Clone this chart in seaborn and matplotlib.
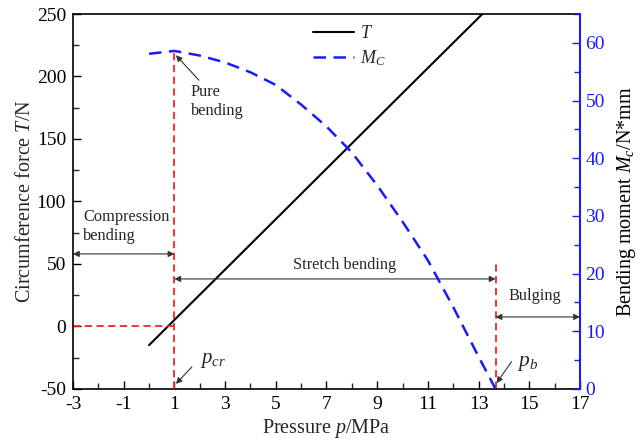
import numpy as np
import pandas as pd
import matplotlib
matplotlib.use("Agg")
import matplotlib.pyplot as plt
import seaborn as sns
from matplotlib.ticker import MultipleLocator, FixedLocator
from matplotlib.lines import Line2D

# ---- data ----
p_T = [0, 1, 3, 5, 7, 9, 11, 13.15]
T_vals = [-15, 5.2, 45.5, 85.8, 126.2, 166.5, 206.8, 250]

p_M = [0, 1, 2, 3, 4, 5, 6, 7, 8, 9, 10, 11, 12, 13, 13.67]
M_vals = [58.1, 58.6, 57.8, 56.6, 54.9, 52.7, 49.3, 45.5, 41.0, 35.3, 29.0, 22.3, 14.2, 5.6, 0.0]

p_cr = 1.0
p_b = 13.67
x_ticks = [-3, -1, 1, 3, 5, 7, 9, 11, 13, 15, 17]

dfT = pd.DataFrame({"p": p_T, "T": T_vals})
dfM = pd.DataFrame({"p": p_M, "M": M_vals})

sns.set_theme(style="ticks")
plt.rcParams['font.family'] = ['Liberation Serif', 'DejaVu Serif']
plt.rcParams['mathtext.fontset'] = 'custom'
plt.rcParams['mathtext.rm'] = 'Liberation Serif'
plt.rcParams['mathtext.it'] = 'Liberation Serif:italic'
plt.rcParams['mathtext.bf'] = 'Liberation Serif:bold'
plt.rcParams['axes.unicode_minus'] = False

fig = plt.figure(figsize=(6.38, 4.46), dpi=100)
ax = fig.add_axes([0.1144, 0.128, 0.7946, 0.8406])
ax2 = ax.twinx()

blue = "#1a1aff"
red = "#ff2020"

sns.lineplot(data=dfT, x="p", y="T", ax=ax, color="black", lw=1.5, legend=False)
sns.lineplot(data=dfM, x="p", y="M", ax=ax2, color=blue, lw=1.8, legend=False)
ax2.lines[0].set_dashes((5, 3))

ax.set_xlim(-3, 17)
ax.set_ylim(-50, 250)
ax2.set_ylim(0, 65)

# red guide lines
peak_M = max(M_vals)
ax2.plot([p_cr, p_cr], [0, peak_M], color=red, lw=1.3, dashes=(4, 2.5))
ax.plot([-3, p_cr], [0, 0], color=red, lw=1.3, dashes=(4, 2.5))
ax.plot([p_b, p_b], [-50, 52], color=red, lw=1.3, dashes=(4, 2.5))

# ticks
ax.xaxis.set_major_locator(FixedLocator(x_ticks))
ax.xaxis.set_minor_locator(MultipleLocator(1))
ax.yaxis.set_major_locator(MultipleLocator(50))
ax.yaxis.set_minor_locator(MultipleLocator(25))
ax2.yaxis.set_major_locator(MultipleLocator(10))
ax2.yaxis.set_minor_locator(MultipleLocator(5))

for a in (ax, ax2):
    a.tick_params(which='major', direction='in', length=6, width=1, labelsize=14)
    a.tick_params(which='minor', direction='in', length=4, width=1)
ax.tick_params(axis='both', colors='black', pad=5)
ax2.tick_params(axis='y', which='both', colors=blue, labelcolor=blue, pad=4)

for s in ax.spines.values():
    s.set_color('black'); s.set_linewidth(1.2)
for name, s in ax2.spines.items():
    s.set_visible(name == 'right')
ax2.spines['right'].set_color(blue)
ax2.spines['right'].set_linewidth(1.5)
ax.spines['right'].set_visible(False)

ax.set_xlabel("Pressure $p$/MPa", fontsize=14.5, labelpad=3)
ax.set_ylabel("Circumference force $T$/N", fontsize=14.5, labelpad=1)
ax2.set_ylabel("Bending moment $M_c$/N*mm", fontsize=14.5, color='black', labelpad=7)

# legend
h = [Line2D([], [], color='black', lw=1.5),
     Line2D([], [], color=blue, lw=1.8, dashes=(5, 3))]
leg = ax2.legend(h, ["$T$", "$M_C$"], loc='upper left', bbox_to_anchor=(0.452, 1.0),
                 frameon=False, fontsize=13, handlelength=2.3, handletextpad=0.3,
                 labelspacing=0.35, borderaxespad=0.2)

# annotations
akw = dict(arrowstyle='-|>', color='#333333', lw=0.8, mutation_scale=9, shrinkA=0, shrinkB=0)
dkw = dict(arrowstyle='<|-|>', color='#333333', lw=0.8, mutation_scale=9, shrinkA=0, shrinkB=0)
fs = 11.8

ax.text(1.65, 180, "Pure\nbending", fontsize=fs, ha='left', va='center', linespacing=1.3)
ax.annotate("", xy=(1.06, 217), xytext=(1.97, 197), arrowprops=akw)

ax.text(-2.6, 80, "Compression\nbending", fontsize=fs, ha='left', va='center', linespacing=1.3)
ax.annotate("", xy=(-3, 58), xytext=(p_cr, 58), arrowprops=dkw)

ax.text(7.71, 49, "Stretch bending", fontsize=fs, ha='center', va='center')
ax.annotate("", xy=(p_cr, 38), xytext=(p_b, 38), arrowprops=dkw)

ax.text(15.24, 24.4, "Bulging", fontsize=fs, ha='center', va='center')
ax.annotate("", xy=(p_b, 7.6), xytext=(17, 7.6), arrowprops=dkw)

ax.text(2.0, -27, "$p_{cr}$", fontsize=15, ha='left', va='center')
ax.annotate("", xy=(1.06, -46), xytext=(1.69, -32.4), arrowprops=akw)

ax.text(14.5, -30, "$p_b$", fontsize=15.5, ha='left', va='center')
ax.annotate("", xy=(13.71, -45.4), xytext=(14.3, -28.2), arrowprops=akw)

fig.savefig("out.png", dpi=100)
